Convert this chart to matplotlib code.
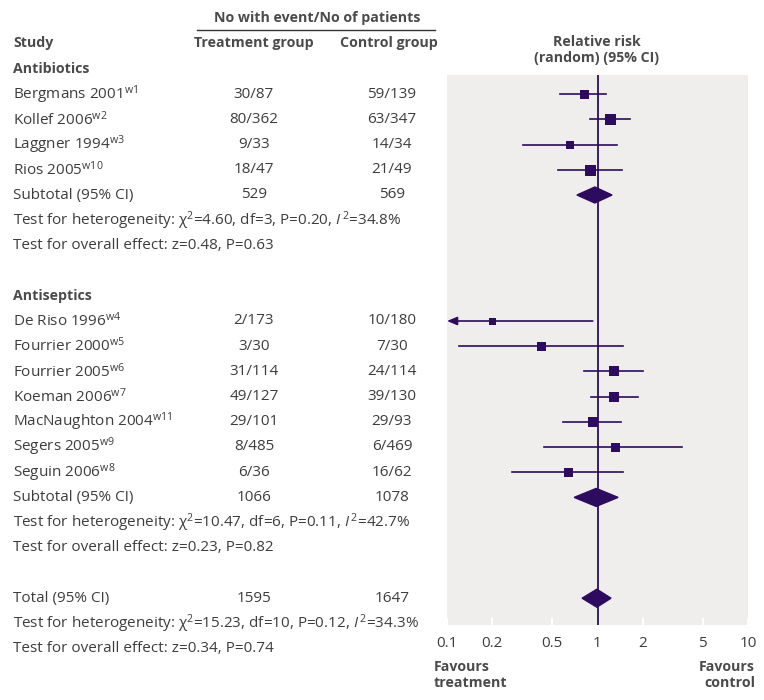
import matplotlib
matplotlib.use("Agg")
import matplotlib.pyplot as plt
from matplotlib.patches import Polygon
import numpy as np

FONT = "Open Sans"
plt.rcParams['font.family'] = [FONT, 'DejaVu Sans']
plt.rcParams['mathtext.fontset'] = 'custom'
plt.rcParams['mathtext.rm'] = FONT
plt.rcParams['mathtext.it'] = FONT + ':italic'
plt.rcParams['mathtext.bf'] = FONT + ':bold'

# ---------------- data ----------------
studies_a = ["Bergmans 2001", "Kollef 2006", "Laggner 1994", "Rios 2005"]
refs_a = ["w1", "w2", "w3", "w10"]
treat_a = ["30/87", "80/362", "9/33", "18/47"]
ctrl_a = ["59/139", "63/347", "14/34", "21/49"]
rr_a = [0.81, 1.22, 0.66, 0.89]
lo_a = [0.56, 0.89, 0.32, 0.55]
hi_a = [1.14, 1.64, 1.35, 1.45]
size_a = [9, 11, 8, 11]
sub_a = (0.96, 0.73, 1.25)
subn_a = ("529", "569")
het_a = r"Test for heterogeneity: χ$^{2}$=4.60, df=3, P=0.20, $\mathit{I}^{\,2}$=34.8%"
ov_a = "Test for overall effect: z=0.48, P=0.63"

studies_b = ["De Riso 1996", "Fourrier 2000", "Fourrier 2005", "Koeman 2006",
             "MacNaughton 2004", "Segers 2005", "Seguin 2006"]
refs_b = ["w4", "w5", "w6", "w7", "w11", "w9", "w8"]
treat_b = ["2/173", "3/30", "31/114", "49/127", "29/101", "8/485", "6/36"]
ctrl_b = ["10/180", "7/30", "24/114", "39/130", "29/93", "6/469", "16/62"]
rr_b = [0.20, 0.42, 1.29, 1.29, 0.93, 1.31, 0.64]
lo_b = [0.046, 0.12, 0.81, 0.90, 0.59, 0.44, 0.27]
hi_b = [0.93, 1.48, 2.00, 1.86, 1.43, 3.65, 1.48]
size_b = [7, 9, 10, 10, 10, 9, 9]
sub_b = (0.98, 0.70, 1.37)
subn_b = ("1066", "1078")
het_b = r"Test for heterogeneity: χ$^{2}$=10.47, df=6, P=0.11, $\mathit{I}^{\,2}$=42.7%"
ov_b = "Test for overall effect: z=0.23, P=0.82"

total = (0.99, 0.79, 1.23)
totn = ("1595", "1647")
het_t = r"Test for heterogeneity: χ$^{2}$=15.23, df=10, P=0.12, $\mathit{I}^{\,2}$=34.3%"
ov_t = "Test for overall effect: z=0.34, P=0.74"

xticks = [0.1, 0.2, 0.5, 1, 2, 5, 10]
xticklabels = ["0.1", "0.2", "0.5", "1", "2", "5", "10"]

# ---------------- layout ----------------
W, H = 764, 700
fig = plt.figure(figsize=(W / 100, H / 100), dpi=100)
fig.patch.set_facecolor("white")

PURPLE = "#2d0b5f"
GREY_BG = "#f0eeec"
TXT = "#3d3d3d"
HDR = "#4a4a4a"
FS = 11.0
FSB = 10.2

tax = fig.add_axes([0, 0, 1, 1])
tax.set_xlim(0, W)
tax.set_ylim(H, 0)
tax.axis("off")

px0, px1, py0, py1 = 447, 748, 75, 625
fax = fig.add_axes([px0 / W, 1 - py1 / H, (px1 - px0) / W, (py1 - py0) / H])
fax.set_xscale("log")
fax.set_xlim(0.1, 10)
fax.set_ylim(py1, py0)
fax.set_facecolor(GREY_BG)
for s in fax.spines.values():
    s.set_visible(False)
fax.set_yticks([])
fax.set_xticks(xticks)
fax.set_xticklabels(xticklabels)
fax.xaxis.set_minor_locator(matplotlib.ticker.NullLocator())
fax.tick_params(axis="x", direction="in", length=5, width=1.5, color="white",
                labelsize=FS, labelcolor=TXT, pad=8)

row0 = 69.0
pitch = 25.2


def ry(i):
    return row0 + i * pitch


XS = 13
XT = 254
XC = 392

tax.text(317, 18, "No with event/No of patients", ha="center", va="center",
         fontsize=FSB, fontweight="bold", color=HDR)
tax.plot([197, 435], [29.5, 29.5], color="#333333", lw=1.0)
tax.text(XS, 43, "Study", ha="left", va="center", fontsize=FSB, fontweight="bold", color=HDR)
tax.text(XT, 43, "Treatment group", ha="center", va="center", fontsize=FSB, fontweight="bold", color=HDR)
tax.text(XC - 3, 43, "Control group", ha="center", va="center", fontsize=FSB, fontweight="bold", color=HDR)
tax.text(597, 42, "Relative risk", ha="center", va="center", fontsize=FSB, fontweight="bold", color=HDR)
tax.text(597, 58, "(random) (95% CI)", ha="center", va="center", fontsize=FSB, fontweight="bold", color=HDR)

fax.axvline(1, color=PURPLE, lw=1.3, zorder=2)


def diamond(ax, est, lo, hi, y, h):
    poly = Polygon([[lo, y], [est, y - h], [hi, y], [est, y + h]], closed=True,
                   facecolor=PURPLE, edgecolor=PURPLE, zorder=4)
    ax.add_patch(poly)


def group(start, name, studies, refs, treat, ctrl, rr, lo, hi, sizes, sub, subn, het, ov, dh):
    tax.text(XS, ry(start), name, ha="left", va="center", fontsize=FSB, fontweight="bold", color=HDR)
    for k, (s, r, t, c, e, l, u, sz) in enumerate(zip(studies, refs, treat, ctrl, rr, lo, hi, sizes)):
        y = ry(start + 1 + k)
        tax.text(XS, y, s + r"$^{\mathrm{" + r + "}}$", ha="left", va="center", fontsize=FS, color=TXT)
        tax.text(XT, y, t, ha="center", va="center", fontsize=FS, color=TXT)
        tax.text(XC, y, c, ha="center", va="center", fontsize=FS, color=TXT)
        if l < 0.1:
            fax.annotate("", xy=(0.1, y), xytext=(u, y),
                         arrowprops=dict(arrowstyle="-|>,head_length=0.6,head_width=0.25",
                                         color=PURPLE, lw=1.2, shrinkA=0, shrinkB=0), zorder=3)
        else:
            fax.plot([l, u], [y, y], color=PURPLE, lw=1.2, zorder=3)
        fax.plot([e], [y], marker="s", markersize=sz * 0.72, color=PURPLE,
                 markeredgewidth=0, zorder=4)
    n = len(studies)
    ys = ry(start + 1 + n)
    tax.text(XS, ys, "Subtotal (95% CI)", ha="left", va="center", fontsize=FS, color=TXT)
    tax.text(XT, ys, subn[0], ha="center", va="center", fontsize=FS, color=TXT)
    tax.text(XC, ys, subn[1], ha="center", va="center", fontsize=FS, color=TXT)
    diamond(fax, sub[0], sub[1], sub[2], ys, dh)
    tax.text(XS, ry(start + 2 + n), het, ha="left", va="center", fontsize=FS, color=TXT)
    tax.text(XS, ry(start + 3 + n), ov, ha="left", va="center", fontsize=FS, color=TXT)


group(0, "Antibiotics", studies_a, refs_a, treat_a, ctrl_a, rr_a, lo_a, hi_a, size_a,
      sub_a, subn_a, het_a, ov_a, 8)
group(9, "Antiseptics", studies_b, refs_b, treat_b, ctrl_b, rr_b, lo_b, hi_b, size_b,
      sub_b, subn_b, het_b, ov_b, 9)

yt = ry(21)
tax.text(XS, yt, "Total (95% CI)", ha="left", va="center", fontsize=FS, color=TXT)
tax.text(XT, yt, totn[0], ha="center", va="center", fontsize=FS, color=TXT)
tax.text(XC, yt, totn[1], ha="center", va="center", fontsize=FS, color=TXT)
diamond(fax, total[0], total[1], total[2], yt, 9)
tax.text(XS, ry(22), het_t, ha="left", va="center", fontsize=FS, color=TXT)
tax.text(XS, ry(23), ov_t, ha="left", va="center", fontsize=FS, color=TXT)

tax.text(434, 667, "Favours", ha="left", va="center", fontsize=FSB, fontweight="bold", color=HDR)
tax.text(434, 683, "treatment", ha="left", va="center", fontsize=FSB, fontweight="bold", color=HDR)
tax.text(755, 667, "Favours", ha="right", va="center", fontsize=FSB, fontweight="bold", color=HDR)
tax.text(755, 683, "control", ha="right", va="center", fontsize=FSB, fontweight="bold", color=HDR)

fig.savefig("out.png", dpi=100, facecolor="white")
